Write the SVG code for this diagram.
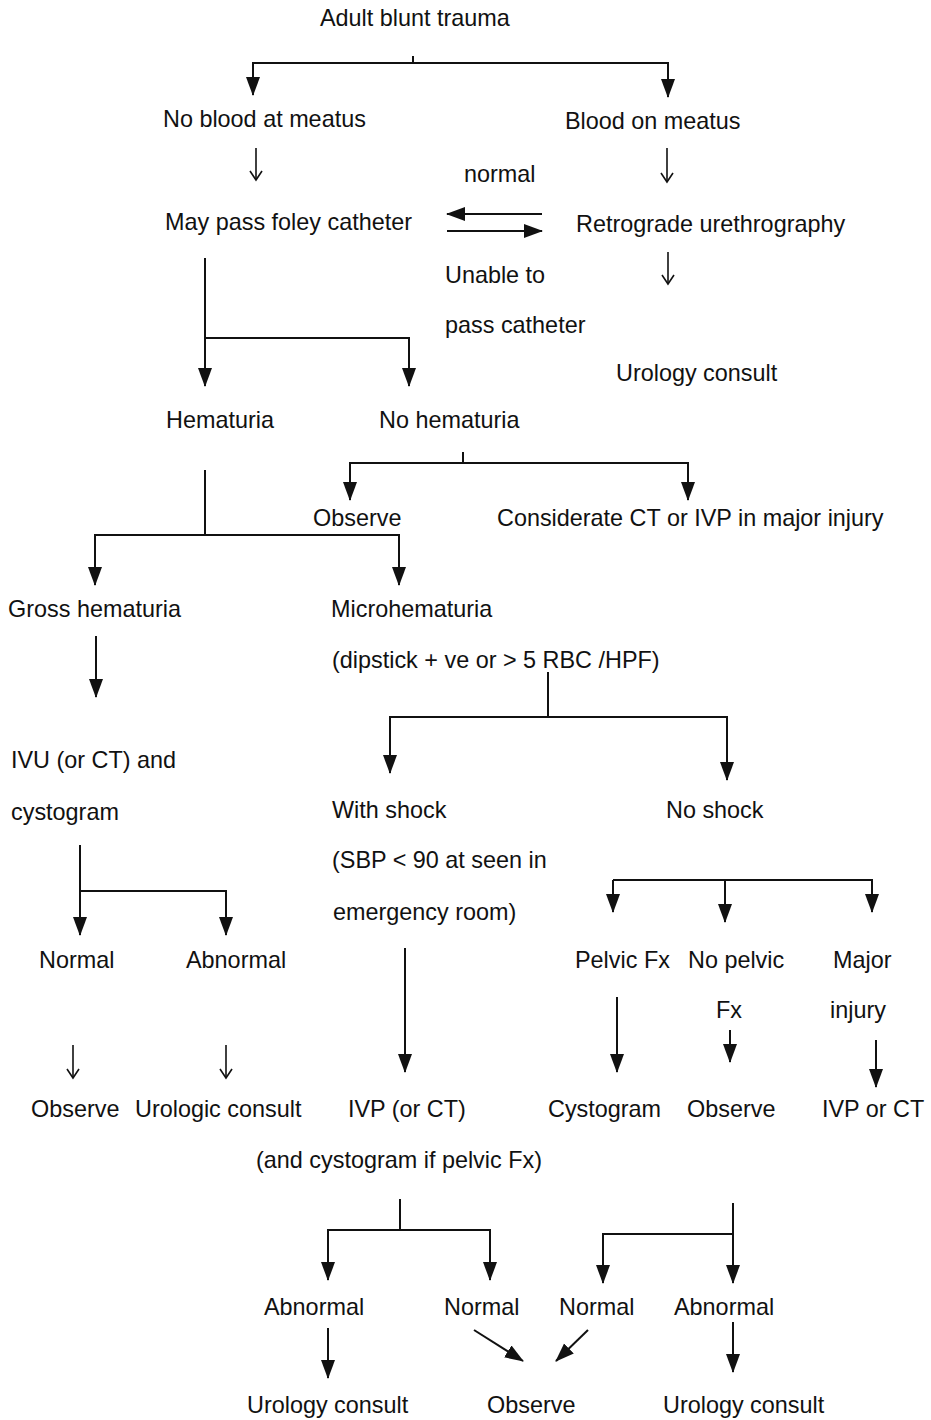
<svg xmlns="http://www.w3.org/2000/svg" width="931" height="1420" viewBox="0 0 931 1420">
  <style>
    text { font-family: "Liberation Sans", Arial, sans-serif; font-size: 23.4px; fill: #111; }
    .ln { fill: none; stroke: #111; stroke-width: 2; }
    .thin { fill: none; stroke: #111; stroke-width: 1.6; }
    .a { marker-end: url(#solid); }
    .o { marker-end: url(#open); }
  </style>
  <defs>
    <marker id="solid" markerUnits="userSpaceOnUse" markerWidth="20" markerHeight="15" refX="18" refY="7.5" orient="auto">
      <path d="M0,0.5 L19,7.5 L0,14.5 Z" fill="#111"/>
    </marker>
    <marker id="open" markerUnits="userSpaceOnUse" markerWidth="12" markerHeight="14" refX="10" refY="7" orient="auto">
      <path d="M1,1 L10,7 L1,13" fill="none" stroke="#111" stroke-width="1.6"/>
    </marker>
  </defs>
  <rect width="931" height="1420" fill="#fff"/>

  <g id="connectors">
    <!-- Adult blunt trauma split -->
    <path class="ln" d="M413,56 V63"/>
    <path class="ln a" d="M413,63 H253 V95"/>
    <path class="ln a" d="M413,63 H668 V97"/>
    <!-- thin arrows under meatus -->
    <path class="thin o" d="M256,148 V180"/>
    <path class="thin o" d="M667,148 V182"/>
    <!-- exchange arrows foley / urethrography -->
    <path class="ln a" d="M542,214 H447"/>
    <path class="ln a" d="M447,231 H542"/>
    <!-- urethrography to urology consult -->
    <path class="thin o" d="M668,252 V284"/>
    <!-- foley split -->
    <path class="ln a" d="M205,258 V386"/>
    <path class="ln a" d="M205,338 H409 V386"/>
    <!-- no hematuria split -->
    <path class="ln" d="M463,452 V463"/>
    <path class="ln a" d="M463,463 H350 V500"/>
    <path class="ln a" d="M463,463 H688 V500"/>
    <!-- hematuria split -->
    <path class="ln" d="M205,470 V535"/>
    <path class="ln a" d="M205,535 H95 V585"/>
    <path class="ln a" d="M205,535 H399 V585"/>
    <!-- gross hematuria -->
    <path class="ln a" d="M96,636 V697"/>
    <!-- microhematuria split -->
    <path class="ln" d="M548,672 V717"/>
    <path class="ln a" d="M548,717 H390 V773"/>
    <path class="ln a" d="M548,717 H727 V780"/>
    <!-- IVU split -->
    <path class="ln a" d="M80,845 V935"/>
    <path class="ln a" d="M80,891 H226 V935"/>
    <!-- no shock split -->
    <path class="ln a" d="M613,880 V912"/>
    <path class="ln a" d="M613,880 H872 V912"/>
    <path class="ln a" d="M725,880 V922"/>
    <!-- with shock -->
    <path class="ln a" d="M405,948 V1072"/>
    <!-- normal / abnormal thin arrows -->
    <path class="thin o" d="M73,1045 V1078"/>
    <path class="thin o" d="M226,1045 V1078"/>
    <!-- no shock branches -->
    <path class="ln a" d="M617,997 V1072"/>
    <path class="ln a" d="M730,1030 V1062"/>
    <path class="ln a" d="M876,1040 V1087"/>
    <!-- IVP result split -->
    <path class="ln" d="M400,1199 V1230"/>
    <path class="ln a" d="M400,1230 H328 V1280"/>
    <path class="ln a" d="M400,1230 H490 V1280"/>
    <!-- no shock result split -->
    <path class="ln a" d="M733,1203 V1283"/>
    <path class="ln a" d="M733,1234 H603 V1283"/>
    <!-- outcomes -->
    <path class="ln a" d="M328,1328 V1378"/>
    <path class="ln a" d="M474,1330 L523,1361"/>
    <path class="ln a" d="M588,1330 L556,1361"/>
    <path class="ln a" d="M733,1322 V1372"/>
  </g>

  <g id="n-trauma"><text x="320" y="26">Adult blunt trauma</text></g>
  <g id="n-no-blood"><text x="163" y="127">No blood at meatus</text></g>
  <g id="n-blood"><text x="565" y="129">Blood on meatus</text></g>
  <g id="l-normal"><text x="464" y="182">normal</text></g>
  <g id="n-foley"><text x="165" y="230">May pass foley catheter</text></g>
  <g id="n-urethro"><text x="576" y="232">Retrograde urethrography</text></g>
  <g id="l-unable"><text x="445" y="283">Unable to</text><text x="445" y="333">pass catheter</text></g>
  <g id="n-urology-1"><text x="616" y="381">Urology consult</text></g>
  <g id="n-hematuria"><text x="166" y="428">Hematuria</text></g>
  <g id="n-no-hematuria"><text x="379" y="428">No hematuria</text></g>
  <g id="n-observe-1"><text x="313" y="526">Observe</text></g>
  <g id="n-considerate"><text x="497" y="526">Considerate CT or IVP in major injury</text></g>
  <g id="n-gross"><text x="8" y="617">Gross hematuria</text></g>
  <g id="n-micro"><text x="331" y="617">Microhematuria</text><text x="332" y="668">(dipstick + ve or &gt; 5 RBC /HPF)</text></g>
  <g id="n-ivu"><text x="11" y="768">IVU (or CT) and</text><text x="11" y="820">cystogram</text></g>
  <g id="n-shock"><text x="332" y="818">With shock</text><text x="332" y="868">(SBP &lt; 90 at seen in</text><text x="333" y="920">emergency room)</text></g>
  <g id="n-no-shock"><text x="666" y="818">No shock</text></g>
  <g id="n-normal-1"><text x="39" y="968">Normal</text></g>
  <g id="n-abnormal-1"><text x="186" y="968">Abnormal</text></g>
  <g id="n-pelvic"><text x="575" y="968">Pelvic Fx</text></g>
  <g id="n-no-pelvic"><text x="688" y="968">No pelvic</text><text x="716" y="1018">Fx</text></g>
  <g id="n-major"><text x="833" y="968">Major</text><text x="830" y="1018">injury</text></g>
  <g id="n-observe-2"><text x="31" y="1117">Observe</text></g>
  <g id="n-urologic"><text x="135" y="1117">Urologic consult</text></g>
  <g id="n-ivp"><text x="348" y="1117">IVP (or CT)</text><text x="256" y="1168">(and cystogram if pelvic Fx)</text></g>
  <g id="n-cystogram"><text x="548" y="1117">Cystogram</text></g>
  <g id="n-observe-3"><text x="687" y="1117">Observe</text></g>
  <g id="n-ivp-ct"><text x="822" y="1117">IVP or CT</text></g>
  <g id="n-abnormal-2"><text x="264" y="1315">Abnormal</text></g>
  <g id="n-normal-2"><text x="444" y="1315">Normal</text></g>
  <g id="n-normal-3"><text x="559" y="1315">Normal</text></g>
  <g id="n-abnormal-3"><text x="674" y="1315">Abnormal</text></g>
  <g id="n-urology-2"><text x="247" y="1413">Urology consult</text></g>
  <g id="n-observe-4"><text x="487" y="1413">Observe</text></g>
  <g id="n-urology-3"><text x="663" y="1413">Urology consult</text></g>
</svg>
